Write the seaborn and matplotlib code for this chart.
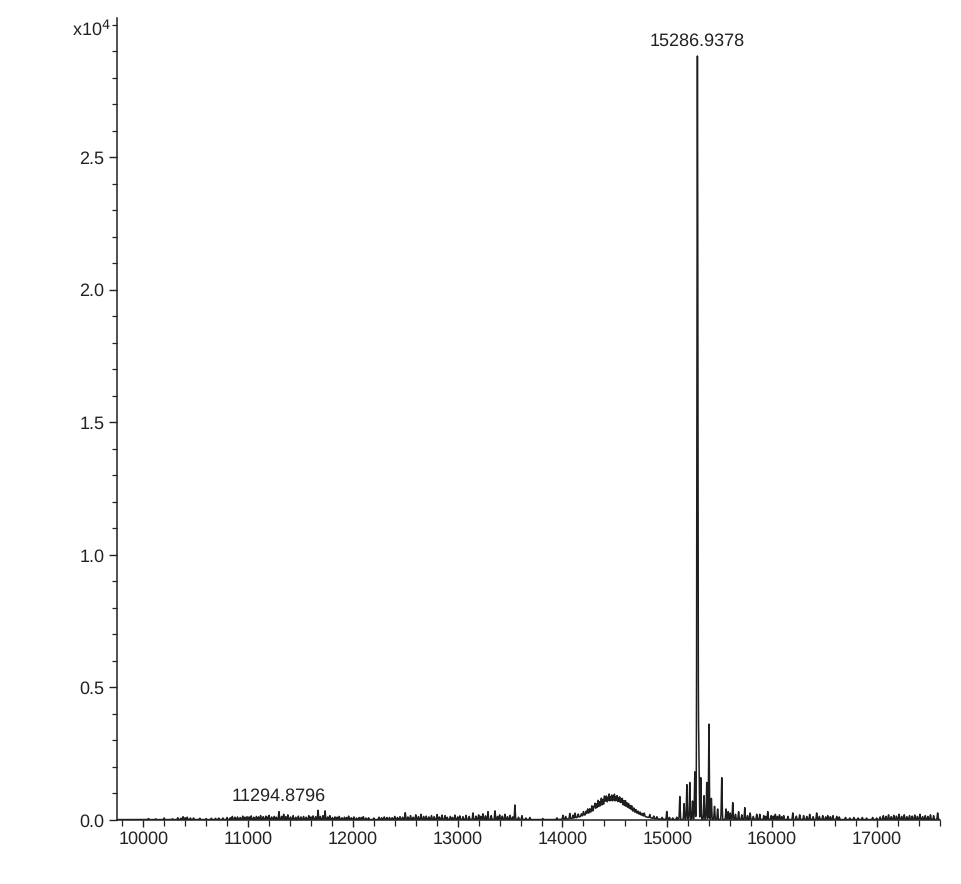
import numpy as np
import pandas as pd
import matplotlib
matplotlib.use("Agg")
import matplotlib.pyplot as plt
from matplotlib.ticker import FixedLocator, MultipleLocator, FuncFormatter
import seaborn as sns

# ---- data (m/z, intensity in counts) ----
noise_mz = [10050, 10200, 10280, 10330, 10380, 10420, 10450, 10540,
            10650, 10720, 10800, 10850, 10900, 10950, 10990,
            11030, 11080, 11120, 11170, 11200, 11250, 11295,
            11340, 11380, 11430, 11480, 11530, 11580, 11620, 11668, 11735,
            11780, 11830, 11870, 11920, 11960, 12010, 12060, 12100, 12150,
            12250, 12300, 12350, 12400, 12450, 12500, 12550, 12600,
            12650, 12700, 12750, 12803, 12850, 12879, 12930, 12974, 13020,
            13080, 13146, 13200, 13241, 13289, 13356, 13400, 13451, 13500,
            13546, 13613, 13689, 13813, 13947, 14004, 14070,
            14833, 14900, 14995, 15052,
            15119, 15160, 15186, 15214, 15240, 15262, 15287, 15300, 15319,
            15350, 15376, 15397, 15420, 15450, 15480, 15519, 15560, 15580,
            15624, 15680, 15739, 15790,
            15853, 15882, 15958, 15990, 16030, 16070, 16110, 16197, 16263,
            16300, 16358, 16425, 16482, 16530, 16580, 16616, 16700, 16780,
            16860, 16959, 16997, 17060, 17110, 17160, 17210, 17260, 17310,
            17360, 17410, 17460, 17510, 17579]
noise_int = [40, 60, 30, 70, 110, 90, 60, 50,
             50, 60, 80, 120, 100, 130, 110,
             140, 120, 150, 130, 160, 120, 300,
             200, 180, 150, 130, 120, 150, 140, 350, 330,
             150, 100, 120, 90, 130, 100, 80, 110, 70,
             90, 100, 80, 120, 110, 260, 150, 180,
             200, 130, 150, 190, 170, 150, 120, 170, 140,
             160, 250, 180, 220, 300, 330, 180, 200, 160,
             550, 150, 80, 40, 60, 150, 200,
             120, 80, 300, 60,
             870, 600, 1320, 1400, 700, 1800, 28800, 2600, 1580,
             900, 1400, 3600, 800, 500, 400, 1580, 400, 300,
             640, 300, 450, 250,
             200, 200, 300, 150, 200, 180, 150, 250, 180,
             150, 200, 250, 150, 150, 150, 120, 80, 80,
             80, 80, 60, 150, 180, 160, 200, 180, 150,
             170, 200, 150, 180, 250]
# small in-between noise spikes
small_mz = [10120, 10360, 10400, 10480, 10600, 10690, 10760, 10830, 10875,
            10925, 10970, 11010, 11055, 11100, 11145, 11185, 11225, 11270,
            11320, 11360, 11405, 11455, 11505, 11555, 11600, 11645, 11690,
            11715, 11760, 11805, 11850, 11895, 11940, 11985, 12035, 12080,
            12125, 12200, 12275, 12325, 12375, 12425, 12475, 12525, 12575,
            12625, 12675, 12725, 12775, 12825, 12900, 12950, 13000, 13050,
            13110, 13175, 13220, 13265, 13320, 13380, 13425, 13475, 13525,
            13580, 13650, 14030, 14100, 14120,
            14780, 14870, 14950, 15020, 15090,
            15600, 15650, 15710, 15765, 15820, 15920, 15940, 16010, 16050,
            16090, 16150, 16230, 16330, 16390, 16450, 16510, 16555, 16640,
            16740, 16820, 16900, 17030, 17085, 17135, 17185, 17235, 17285,
            17335, 17385, 17435, 17485, 17540]
small_int = [30, 50, 70, 60, 40, 50, 60, 70, 90,
             80, 90, 100, 90, 100, 110, 90, 100, 90,
             120, 110, 100, 90, 100, 90, 100, 110, 120,
             150, 100, 80, 90, 70, 80, 70, 60, 80,
             60, 60, 70, 80, 70, 80, 90, 100, 90,
             110, 120, 100, 110, 100, 90, 80, 100, 110,
             120, 130, 120, 140, 150, 120, 130, 110, 100,
             90, 60, 100, 120, 180,
             120, 90, 70, 80, 90,
             250, 200, 180, 150, 120, 150, 120, 130, 120,
             110, 120, 130, 120, 110, 120, 100, 110, 100,
             60, 60, 60, 100, 120, 110, 130, 120, 110,
             130, 120, 110, 120, 150]
# broad hump near 14500
hump_center = 14480
hump_height = 600
hump_sigma = 170
hump_spike_mz = [14150, 14180, 14200, 14225, 14240, 14260, 14280, 14300,
                 14310, 14325, 14340, 14355, 14370, 14385, 14400, 14412,
                 14420, 14433, 14445, 14458, 14470, 14483, 14495, 14508,
                 14520, 14533, 14545, 14558, 14570, 14585, 14600, 14615,
                 14630, 14645, 14660, 14680, 14700, 14720, 14740, 14760]
hump_spike_int = [120, 90, 150, 120, 180, 150, 220, 160,
                  250, 200, 300, 220, 320, 250, 350, 280,
                  300, 260, 380, 270, 330, 280, 360, 270,
                  320, 250, 300, 240, 280, 220, 250, 200,
                  200, 160, 180, 140, 120, 100, 100, 80]

label_mz = [11294.8796, 15286.9378]
label_txt = ["11294.8796", "15286.9378"]

xticks = [10000, 11000, 12000, 13000, 14000, 15000, 16000, 17000]
yticks = [0, 5000, 10000, 15000, 20000, 25000]

# ---- build the profile from the peak list ----
mz = np.arange(9750, 17601, 1.0)
inten = np.full_like(mz, 15.0)
for c, h in zip(noise_mz, noise_int):
    s = 4.5 if h > 10000 else 3.5
    inten += h * np.exp(-0.5 * ((mz - c) / s) ** 2)
for c, h in zip(small_mz, small_int):
    inten += h * np.exp(-0.5 * ((mz - c) / 3.0) ** 2)
inten += hump_height * np.exp(-0.5 * ((mz - hump_center) / hump_sigma) ** 2)
for c, h in zip(hump_spike_mz, hump_spike_int):
    inten += h * np.exp(-0.5 * ((mz - c) / 3.5) ** 2)
df = pd.DataFrame({"mz": mz, "intensity": inten})

# ---- plot ----
sns.set_theme(style="ticks")
plt.rcParams["font.family"] = ["Liberation Sans", "DejaVu Sans"]
plt.rcParams["text.hinting"] = "no_hinting"
plt.rcParams["text.hinting_factor"] = 1

fig = plt.figure(figsize=(9.62, 8.84), dpi=100)
ax = fig.add_axes([0.1216, 0.0724, 0.977 - 0.1216, 0.9796 - 0.0724])
sns.lineplot(data=df, x="mz", y="intensity", ax=ax, color="#1e1e1e",
             linewidth=1.1, estimator=None, sort=False)

ax.set_xlim(9750, 17600)
ax.set_ylim(0, 30250)
ax.xaxis.set_major_locator(FixedLocator(xticks))
ax.xaxis.set_minor_locator(MultipleLocator(200))
ax.yaxis.set_major_locator(FixedLocator(yticks))
ax.yaxis.set_minor_locator(MultipleLocator(1000))
ax.yaxis.set_major_formatter(FuncFormatter(lambda v, p: f"{v/1e4:.1f}"))
ax.tick_params(axis="both", which="major", labelsize=13, colors="#222",
               length=6, width=1.0, pad=3)
ax.tick_params(axis="x", which="major", length=5)
ax.tick_params(axis="both", which="minor", length=3.5, width=0.9, colors="#222")
ax.tick_params(axis="x", which="minor", length=4.5)
ax.set_xlabel("")
ax.set_ylabel("")
sns.despine(ax=ax, top=True, right=True)
for sp in ("left", "bottom"):
    ax.spines[sp].set_linewidth(1.1)
    ax.spines[sp].set_color("#222")

ax.text(-0.008, 1.0, r"x10$^4$", transform=ax.transAxes, ha="right",
        va="top", fontsize=13, color="#222")

for m, t in zip(label_mz, label_txt):
    yv = np.interp(m, mz, inten)
    if m > 15000:
        yv = df["intensity"].max()
    ax.annotate(t, xy=(m, yv), xytext=(0, 5), textcoords="offset points",
                ha="center", va="bottom", fontsize=13, color="#222")

fig.savefig("out.png", dpi=100, facecolor="white")
